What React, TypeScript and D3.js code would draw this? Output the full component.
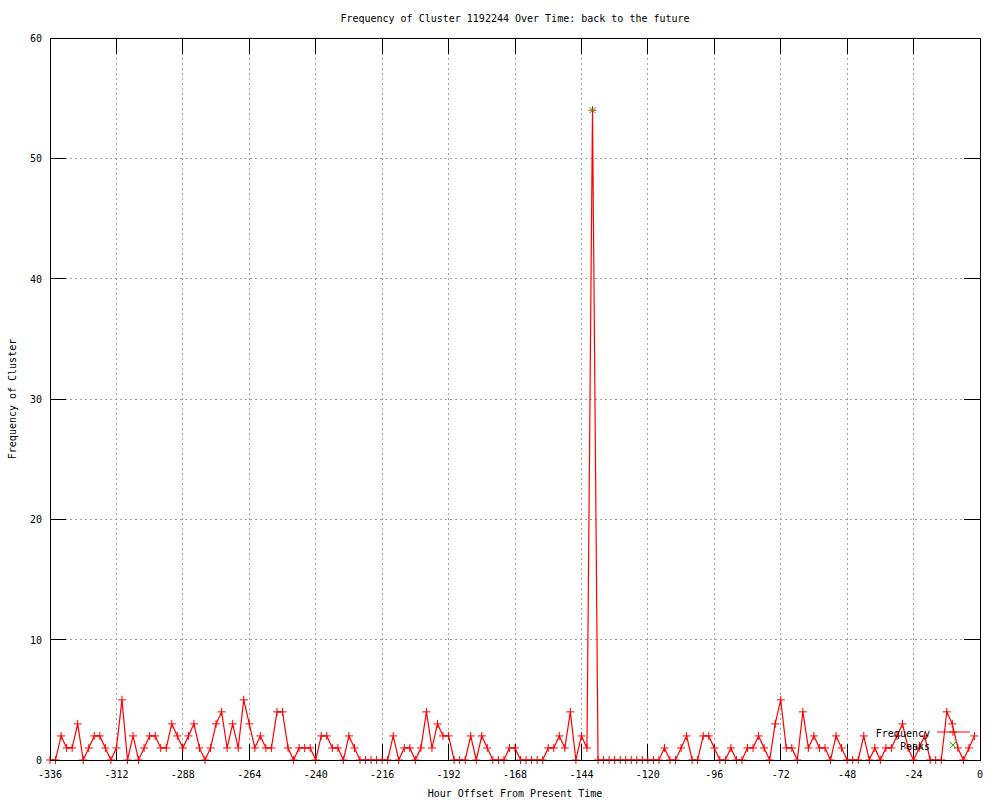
import React from 'react';
import * as d3 from 'd3';

// cluster frequency, one value every 2 hours from -336 to -2
const hours = d3.range(-336, 0, 2);
const frequency = [
  0, 0, 2, 1, 1, 3, 0, 1, 2, 2, 1, 0, 1, 5,
  0, 2, 0, 1, 2, 2, 1, 1, 3, 2, 1, 2, 3, 1, 0, 1, 3, 4, 1, 3, 1,
  5, 3, 1, 2, 1, 1, 4, 4, 1, 0, 1, 1, 1,
  0, 2, 2, 1, 1, 0, 2, 1, 0, 0, 0, 0, 0, 0, 2, 0, 1, 1, 0, 1, 4,
  1, 3, 2, 2, 0, 0, 0, 2, 0, 2, 1, 0, 0, 0, 1, 1, 0, 0, 0, 0, 0, 1, 1, 2, 1, 4, 0, 2, 1,
  54,
  0, 0, 0, 0, 0, 0, 0, 0, 0, 0, 0, 0,
  1, 0, 0, 1, 2, 0, 0, 2, 2, 1, 0, 0, 1, 0, 0, 1, 1, 2, 1, 0, 3, 5, 1, 1, 0, 4, 1,
  2, 1, 1, 0, 2, 1, 0, 0, 0, 2, 0, 1, 0, 1, 1, 2, 3, 1, 0, 1, 2, 0, 0, 0, 4, 3, 1, 0, 1, 2,
];
const peakHours = [-140];
const peakValues = [54];

const xTicks = [-336, -312, -288, -264, -240, -216, -192, -168, -144, -120, -96, -72, -48, -24, 0];
const yTicks = [0, 10, 20, 30, 40, 50, 60];

const titleText = 'Frequency of Cluster 1192244 Over Time: back to the future';
const xLabel = 'Hour Offset From Present Time';
const yLabel = 'Frequency of Cluster';

const W = 1000, H = 800;
const margin = { top: 38, right: 20, bottom: 40, left: 50 };
const FONT = '"DejaVu Sans Mono", monospace';

export default function App() {
  const x = d3.scaleLinear().domain([-336, 0]).range([margin.left, W - margin.right]);
  const y = d3.scaleLinear().domain([0, 60]).range([H - margin.bottom, margin.top]);
  const [x0, x1] = x.range();
  const [y0, y1] = y.range();
  const tic = 16;

  const pts = hours.map((h, i) => [h, frequency[i]] as [number, number]);
  const line = d3.line<[number, number]>().x(d => x(d[0])).y(d => y(d[1]));

  const plus = (cx: number, cy: number, key: string | number, color: string) => (
    <path key={key} d={`M${cx - 4},${cy}H${cx + 4}M${cx},${cy - 4}V${cy + 4}`} stroke={color} strokeWidth={1} />
  );
  const cross = (cx: number, cy: number, key: string | number, color: string) => (
    <path key={key} d={`M${cx - 3},${cy - 3}L${cx + 3},${cy + 3}M${cx - 3},${cy + 3}L${cx + 3},${cy - 3}`} stroke={color} strokeWidth={1} />
  );

  return (
    <svg width={W} height={H} style={{ position: 'absolute', left: 0, top: 0, background: '#fff' }}
         fontFamily={FONT} fontSize={10}>
      <rect width={W} height={H} fill="#fff" />
      {/* grid */}
      <g stroke="#a0a0a0" strokeDasharray="2,3" shapeRendering="crispEdges">
        {xTicks.map(t => <line key={'gx' + t} x1={x(t)} x2={x(t)} y1={y0} y2={y1} />)}
        {yTicks.map(t => <line key={'gy' + t} x1={x0} x2={x1} y1={y(t)} y2={y(t)} />)}
      </g>
      {/* tics, mirrored on all sides */}
      <g stroke="#000" shapeRendering="crispEdges">
        {xTicks.map(t => (
          <g key={'tx' + t}>
            <line x1={x(t)} x2={x(t)} y1={y0} y2={y0 - tic} />
            <line x1={x(t)} x2={x(t)} y1={y1} y2={y1 + tic} />
          </g>
        ))}
        {yTicks.map(t => (
          <g key={'ty' + t}>
            <line x1={x0} x2={x0 + tic} y1={y(t)} y2={y(t)} />
            <line x1={x1} x2={x1 - tic} y1={y(t)} y2={y(t)} />
          </g>
        ))}
      </g>
      {/* tick labels */}
      {xTicks.map(t => (
        <text key={'lx' + t} x={x(t)} y={y0 + 18} textAnchor="middle">{String(t)}</text>
      ))}
      {yTicks.map(t => (
        <text key={'ly' + t} x={x0 - 8} y={y(t) + 4} textAnchor="end">{t}</text>
      ))}
      {/* data */}
      <path d={line(pts) || ''} fill="none" stroke="#ff0000" strokeWidth={1.2} />
      {pts.map((d, i) => plus(x(d[0]), y(d[1]), 'p' + i, '#ff0000'))}
      {peakHours.map((h, i) => cross(x(h), y(peakValues[i]), 'pk' + i, '#00c000'))}
      {/* border */}
      <rect x={x0} y={y1} width={x1 - x0} height={y0 - y1} fill="none" stroke="#000" shapeRendering="crispEdges" />
      {/* legend */}
      <text x={930} y={737} textAnchor="end">Frequency</text>
      <line x1={937} x2={970} y1={732} y2={732} stroke="#ff0000" />
      {plus(953, 732, 'lg1', '#ff0000')}
      <text x={930} y={750} textAnchor="end">Peaks</text>
      {cross(953, 745, 'lg2', '#00c000')}
      {/* titles */}
      <text x={(x0 + x1) / 2} y={22} textAnchor="middle">{titleText}</text>
      <text x={(x0 + x1) / 2} y={797} textAnchor="middle">{xLabel}</text>
      <text transform={`translate(16,${(y0 + y1) / 2}) rotate(-90)`} textAnchor="middle">{yLabel}</text>
    </svg>
  );
}
